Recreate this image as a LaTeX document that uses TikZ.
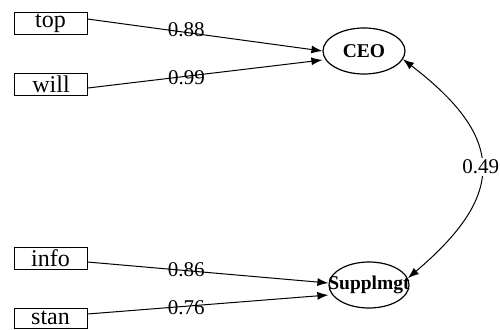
\documentclass[tikz,border=0pt]{standalone}
\usepackage{fontspec}
\setmainfont{Liberation Serif}
\usetikzlibrary{shapes.geometric,arrows.meta}
\begin{document}
\begin{tikzpicture}[x=1pt,y=-1pt,
  obs/.style={draw, line width=0.9pt, minimum width=73pt, minimum height=22pt, inner sep=0pt, font=\fontsize{24}{24}\selectfont},
  lat/.style={draw, ellipse, line width=1.2pt, inner sep=0pt, font=\fontsize{19.5}{19.5}\selectfont\bfseries},
  path/.style={line width=1pt, -{Latex[length=11pt,width=8pt]}},
  coef/.style={font=\fontsize{21}{21}\selectfont, inner sep=1pt}]
\useasboundingbox (0,0) rectangle (500,329);
\node[obs] (top) at (50.5,23.5) {top};
\node[obs] (will) at (51,84) {will};
\node[obs] (info) at (50.5,258) {info};
\node[obs, minimum height=20pt] (stan) at (50.5,318) {stan};
\node[lat, minimum width=82pt, minimum height=46pt] (CEO) at (364,51) {CEO};
\node[lat, minimum width=80pt, minimum height=46pt] (SM) at (369,285) {\makebox[0pt]{Supplmgt}};
\draw[path] ([yshift=4.5pt]top.east) -- node[coef, pos=0.42, yshift=3pt] {0.88} (CEO.west);
\draw[path] ([yshift=-4pt]will.east) -- node[coef, pos=0.42, yshift=-1pt] {0.99} ([yshift=-9pt]CEO.west);
\draw[path] ([yshift=-4pt]info.east) -- node[coef, pos=0.41, yshift=1pt] {0.86} ([yshift=2pt]SM.west);
\draw[path] ([yshift=4pt]stan.east) -- node[coef, pos=0.41, yshift=-1pt] {0.76} ([yshift=-10pt]SM.west);
\draw[line width=1pt, {Latex[length=11pt,width=8pt]}-{Latex[length=11pt,width=8pt]}]
  (CEO.-12) .. controls (506,138) and (506,195) .. node[coef, fill=white, inner sep=2pt] {0.49} (SM.10);
\end{tikzpicture}
\end{document}
